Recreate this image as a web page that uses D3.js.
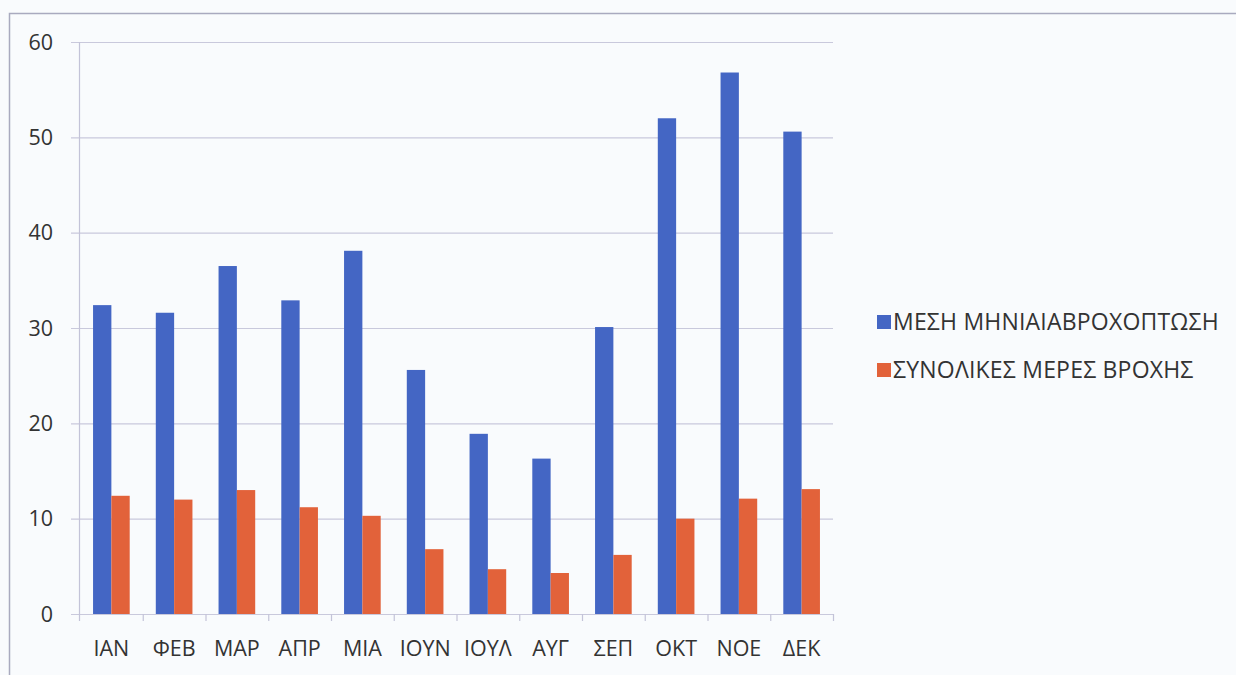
<!DOCTYPE html>
<html>
<head>
<meta charset="utf-8">
<script src="https://cdn.jsdelivr.net/npm/d3@7"></script>
<style>
  html, body { margin: 0; padding: 0; background: #f9fbfd; }
  svg { display: block; }
  text { font-family: "Open Sans", "DejaVu Sans", sans-serif; fill: #333; }
</style>
</head>
<body>
<svg id="chart" width="1236" height="675"></svg>
<script>
// Months (Greek abbreviations)
const months = ["ΙΑΝ", "ΦΕΒ", "ΜΑΡ", "ΑΠΡ", "ΜΙΑ", "ΙΟΥΝ", "ΙΟΥΛ", "ΑΥΓ", "ΣΕΠ", "ΟΚΤ", "ΝΟΕ", "ΔΕΚ"];
// Average monthly rainfall
const rainfall = [32.4, 31.6, 36.5, 32.9, 38.1, 25.6, 18.9, 16.3, 30.1, 52.0, 56.8, 50.6];
// Total rainy days
const rainDays = [12.4, 12.0, 13.0, 11.2, 10.3, 6.8, 4.7, 4.3, 6.2, 10.0, 12.1, 13.1];
const seriesNames = ["ΜΕΣΗ ΜΗΝΙΑΙΑΒΡΟΧΟΠΤΩΣΗ", "ΣΥΝΟΛΙΚΕΣ ΜΕΡΕΣ ΒΡΟΧΗΣ"];
const yTicks = [0, 10, 20, 30, 40, 50, 60];

const colors = ["#4466c4", "#e2623a"];
const svg = d3.select("#chart");

// outer frame (top and left edges)
svg.append("path")
  .attr("d", "M9.5,675 L9.5,13.5 L1236,13.5")
  .attr("fill", "none").attr("stroke", "#a9aabf").attr("stroke-width", 1.5);

const plot = { left: 80, right: 833, top: 42, bottom: 614 };

const x = d3.scaleBand().domain(months).range([plot.left, plot.right]);
const y = d3.scaleLinear().domain([0, 60]).range([plot.bottom, plot.top]);

// horizontal gridlines
svg.append("g")
  .selectAll("line")
  .data(yTicks)
  .join("line")
  .attr("x1", 71).attr("x2", plot.right)
  .attr("y1", d => y(d) + 0.5).attr("y2", d => y(d) + 0.5)
  .attr("stroke", "#c9c9dc").attr("stroke-width", 1.2);

// vertical axis line
svg.append("line")
  .attr("x1", 79.5).attr("x2", 79.5)
  .attr("y1", plot.top).attr("y2", plot.bottom + 7)
  .attr("stroke", "#c3c3d8").attr("stroke-width", 1.2);

// y tick labels
svg.append("g")
  .selectAll("text")
  .data(yTicks)
  .join("text")
  .attr("x", 53).attr("y", d => y(d))
  .attr("dy", "0.36em")
  .attr("text-anchor", "end")
  .attr("font-size", 21.5)
  .text(d => d);

// x axis category labels
const xAxis = d3.axisBottom(x).tickSize(0).tickPadding(0);
const gx = svg.append("g").attr("transform", `translate(0,${plot.bottom})`).call(xAxis);
gx.select(".domain").remove();
gx.selectAll(".tick line").remove();
gx.selectAll(".tick text")
  .attr("y", 42)
  .attr("dy", "0")
  .attr("font-size", 21.5)
  .attr("fill", "#333")
  .style("font-family", "\"Open Sans\", sans-serif");

// category separator ticks below the axis
svg.append("g")
  .selectAll("line")
  .data(months)
  .join("line")
  .attr("x1", d => x(d) + x.bandwidth() + 0.5)
  .attr("x2", d => x(d) + x.bandwidth() + 0.5)
  .attr("y1", plot.bottom).attr("y2", plot.bottom + 7)
  .attr("stroke", "#c3c3d8").attr("stroke-width", 1.2);

// bars
const barW = x.bandwidth() * 0.292;
const series = [rainfall, rainDays];
series.forEach((vals, si) => {
  svg.append("g")
    .selectAll("rect")
    .data(vals)
    .join("rect")
    .attr("x", (d, i) => x(months[i]) + x.bandwidth() / 2 - barW + si * barW)
    .attr("width", barW)
    .attr("y", d => y(d))
    .attr("height", d => y(0) - y(d))
    .attr("fill", colors[si]);
});

// legend
const legend = svg.append("g");
seriesNames.forEach((name, i) => {
  const cy = 322 + i * 48;
  legend.append("rect")
    .attr("x", 877).attr("y", cy - 7)
    .attr("width", 14).attr("height", 14)
    .attr("fill", colors[i]);
  legend.append("text")
    .attr("x", 893).attr("y", cy)
    .attr("dy", "0.36em")
    .attr("font-size", 23)
    .attr("letter-spacing", 0.2)
    .text(name);
});
</script>
</body>
</html>
